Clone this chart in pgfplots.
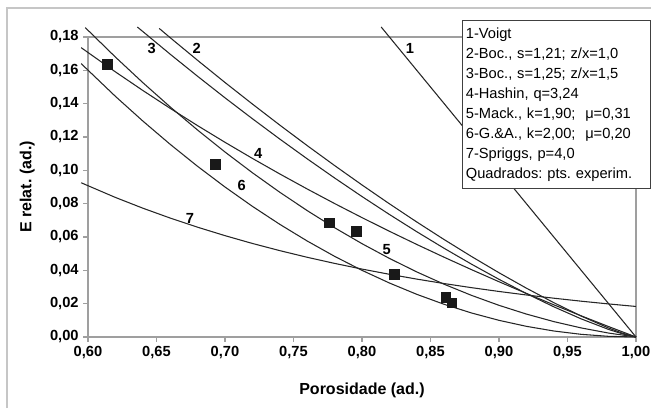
\documentclass[border=0pt]{standalone}
\usepackage{fontspec}
\setmainfont{Liberation Sans}
\usepackage{pgfplots}
\pgfplotsset{compat=1.18}

\tikzset{
  curva/.style={black!85, line width=0.8pt},
  rot/.style={font=\bfseries\fontsize{11}{13}\selectfont, inner sep=1pt},
}

\begin{document}
\frenchspacing
\begin{tikzpicture}[x=0.75pt,y=0.75pt]
\path[use as bounding box] (0,0) rectangle (651,408);
%% moldura da area do grafico
\draw[gray!45, line width=1pt] (7,0) -- (7,400) -- (651,400);

\begin{axis}[
  at={(66pt,53.25pt)}, anchor=south west,
  scale only axis, width=411pt, height=225pt,
  xmin=0.6, xmax=1.0, ymin=0, ymax=0.18,
  xtick={0.6,0.65,0.7,0.75,0.8,0.85,0.9,0.95,1.0},
  ytick={0,0.02,0.04,0.06,0.08,0.1,0.12,0.14,0.16,0.18},
  xtick pos=bottom, ytick pos=left,
  tick align=outside, major tick length=3.5pt,
  axis line style={gray!75, line width=0.8pt},
  tick style={gray!75, line width=0.8pt},
  clip=false,
  tick label style={font=\bfseries\fontsize{11}{12}\selectfont},
  xticklabel style={/pgf/number format/.cd, fixed, fixed zerofill, precision=2, use comma},
  yticklabel style={/pgf/number format/.cd, fixed, fixed zerofill, precision=2, use comma},
  /pgf/number format/assume math mode=true,
  xlabel={Porosidade (ad.)}, ylabel={E relat. (ad.)},
  label style={font=\bfseries\fontsize{12}{13}\selectfont},
  xlabel style={at={(axis description cs:0.5,-0.177)}, anchor=center},
  ylabel style={at={(axis description cs:-0.111,0.5)}, anchor=center},
]
% 1 - Voigt
\addplot[curva] coordinates {(0.814,0.186) (1.0,0)};
% 2 - Boccaccini s=1,21
\addplot[curva] coordinates {
  (0.652,0.18513) (0.66,0.17959) (0.68,0.16600) (0.70,0.15271) (0.72,0.13978)
  (0.74,0.12714) (0.76,0.11484) (0.78,0.10287) (0.80,0.09123) (0.82,0.07993)
  (0.84,0.06900) (0.86,0.05844) (0.88,0.04828) (0.90,0.03855) (0.92,0.02930)
  (0.94,0.02060) (0.96,0.01256) (0.98,0.00539) (0.99,0.00233) (1.0,0)};
% 3 - Boccaccini s=1,25
\addplot[curva] coordinates {
  (0.636,0.18600) (0.64,0.18330) (0.66,0.16968) (0.68,0.15643) (0.70,0.14351)
  (0.72,0.13097) (0.74,0.11876) (0.76,0.10691) (0.78,0.09542) (0.80,0.08428)
  (0.82,0.07353) (0.84,0.06316) (0.86,0.05320) (0.88,0.04367) (0.90,0.03461)
  (0.92,0.02607) (0.94,0.01812) (0.96,0.01087) (0.98,0.00453) (0.99,0.00191) (1.0,0)};
% 4 - Hashin
\addplot[curva] coordinates {
  (0.595,0.17361) (0.62,0.15908) (0.64,0.14793) (0.66,0.13719) (0.68,0.12682)
  (0.70,0.11682) (0.72,0.10716) (0.74,0.09783) (0.76,0.08881) (0.78,0.08008)
  (0.80,0.07163) (0.82,0.06345) (0.84,0.05552) (0.86,0.04784) (0.88,0.04039)
  (0.90,0.03316) (0.92,0.02614) (0.94,0.01932) (0.96,0.01270) (0.98,0.00626) (1.0,0)};
% 5 - Mackenzie
\addplot[curva] coordinates {
  (0.598,0.18564) (0.62,0.16796) (0.64,0.15264) (0.66,0.13804) (0.68,0.12416)
  (0.70,0.11100) (0.72,0.09856) (0.74,0.08684) (0.76,0.07584) (0.78,0.06556)
  (0.80,0.05600) (0.82,0.04716) (0.84,0.03904) (0.86,0.03164) (0.88,0.02496)
  (0.90,0.01900) (0.92,0.01376) (0.94,0.00924) (0.96,0.00544) (0.98,0.00236) (1.0,0)};
% 6 - Gibson & Ashby
\addplot[curva] coordinates {
  (0.595,0.16403) (0.62,0.14440) (0.64,0.12960) (0.66,0.11560) (0.68,0.10240)
  (0.70,0.09000) (0.72,0.07840) (0.74,0.06760) (0.76,0.05760) (0.78,0.04840)
  (0.80,0.04000) (0.82,0.03240) (0.84,0.02560) (0.86,0.01960) (0.88,0.01440)
  (0.90,0.01000) (0.92,0.00640) (0.94,0.00360) (0.96,0.00160) (0.98,0.00040) (1.0,0)};
% 7 - Spriggs
\addplot[curva] coordinates {
  (0.595,0.09255) (0.62,0.08374) (0.64,0.07730) (0.66,0.07136) (0.68,0.06587)
  (0.70,0.06081) (0.72,0.05613) (0.74,0.05182) (0.76,0.04783) (0.78,0.04416)
  (0.80,0.04076) (0.82,0.03763) (0.84,0.03474) (0.86,0.03206) (0.88,0.02960)
  (0.90,0.02732) (0.92,0.02522) (0.94,0.02328) (0.96,0.02149) (0.98,0.01984) (1.0,0.01832)};
% pontos experimentais
\addplot[only marks, mark=square*, mark size=3.6pt, mark options={fill=black!90, draw=black!90}]
  coordinates {
  (0.6141,0.1638) (0.6927,0.1036) (0.7762,0.0686) (0.7956,0.0636)
  (0.8234,0.0378) (0.8611,0.0238) (0.8654,0.0206)};

\node[rot] at (axis cs:0.835,0.173) {1};
\node[rot] at (axis cs:0.6793,0.173) {2};
\node[rot] at (axis cs:0.6465,0.173) {3};
\node[rot] at (axis cs:0.7243,0.1102) {4};
\node[rot] at (axis cs:0.818,0.0522) {5};
\node[rot] at (axis cs:0.7122,0.0912) {6};
\node[rot] at (axis cs:0.6745,0.0712) {7};
\end{axis}

%% caixa de legenda
\node[draw=black!75, line width=0.8pt, fill=white, anchor=north west,
      minimum width=141pt, minimum height=126pt, inner xsep=2pt, inner ysep=3pt,
      text width=136pt, align=left,
      font=\fontsize{11}{15}\selectfont] at (462,388) {%
1-Voigt\\
2-Boc., s=1,21; z/x=1,0\\
3-Boc., s=1,25; z/x=1,5\\
4-Hashin, q=3,24\\
5-Mack., k=1,90;\ \ μ=0,31\\
6-G.\&A., k=2,00;\ \ μ=0,20\\
7-Spriggs, p=4,0\\
Quadrados: pts. experim.};
\end{tikzpicture}
\end{document}
